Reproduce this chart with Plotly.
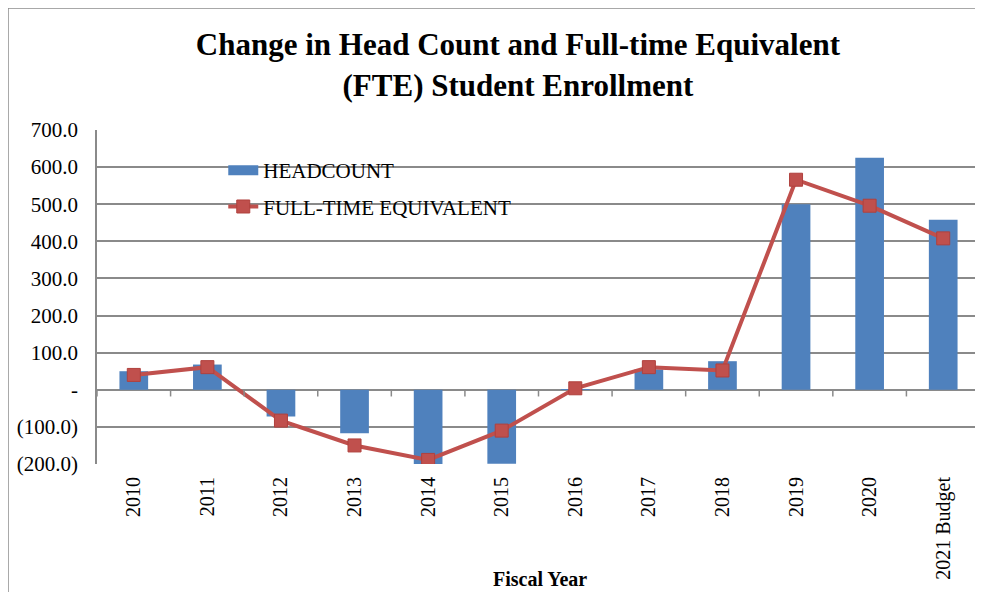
import plotly.graph_objects as go

categories = ["2010", "2011", "2012", "2013", "2014", "2015", "2016",
              "2017", "2018", "2019", "2020", "2021 Budget"]
headcount = [50, 68, -72, -117, -205, -199, 2, 55, 77, 500, 625, 458]
fte = [40, 61, -83, -150, -189, -110, 4, 61, 52, 566, 496, 408]

y_tickvals = [700, 600, 500, 400, 300, 200, 100, 0, -100, -200]
y_ticktext = ["700.0", "600.0", "500.0", "400.0", "300.0", "200.0",
              "100.0", "-", "(100.0)", "(200.0)"]

BLUE = "#4F81BD"
RED = "#C0504D"
GRID = "#8a8a8a"
FONT = "Liberation Serif"

n = len(categories)

fig = go.Figure()
fig.add_trace(go.Bar(x=categories, y=headcount, name="HEADCOUNT",
                     marker=dict(color=BLUE, line=dict(width=0)),
                     width=0.39, showlegend=False))
# legend proxy for the bar series (wide rectangle like the original)
fig.add_trace(go.Scatter(x=[None], y=[None], mode="lines", name="HEADCOUNT",
                         line=dict(color=BLUE, width=12), legendgroup="a"))
fig.add_trace(go.Scatter(x=categories, y=fte, name="FULL-TIME EQUIVALENT",
                         mode="lines+markers", legendgroup="b",
                         line=dict(color=RED, width=4),
                         marker=dict(symbol="square", size=13, color=RED,
                                     line=dict(color="#b0403d", width=1))))

shapes = []
# category boundary ticks on the zero line
for i in range(n + 1):
    shapes.append(dict(type="line", xref="x", yref="y", x0=i - 0.5, x1=i - 0.5,
                       y0=0, y1=-18, line=dict(color=GRID, width=1.5)))
# outer chart border
shapes.append(dict(type="rect", xref="paper", yref="paper",
                   x0=-0.1008, x1=1.05, y0=-0.5, y1=1.365,
                   line=dict(color="#8c8c8c", width=1.5), layer="below"))

fig.update_layout(
    width=975, height=584,
    margin=dict(l=89, r=3, t=122, b=128),
    paper_bgcolor="white", plot_bgcolor="white",
    font=dict(family=FONT, size=20, color="black"),
    title=dict(text="<b>Change in Head Count and Full-time Equivalent<br>(FTE) Student Enrollment</b>",
               x=0.523, xanchor="center", y=0.919, yanchor="middle",
               font=dict(family=FONT, size=31, color="black")),
    barmode="overlay",
    showlegend=True,
    legend=dict(x=0.143, y=0.94, xanchor="left", yanchor="top",
                bgcolor="rgba(0,0,0,0)", tracegroupgap=6,
                font=dict(family=FONT, size=21, color="black")),
    xaxis=dict(type="category", categoryorder="array", categoryarray=categories,
               range=[-0.5, n - 0.5], autorange=False,
               tickangle=-90, showgrid=False, ticks="", showline=False,
               zeroline=False, ticklabelstandoff=8,
               tickfont=dict(family=FONT, size=20, color="black")),
    yaxis=dict(range=[-200, 700], autorange=False,
               tickvals=y_tickvals, ticktext=y_ticktext,
               showgrid=True, gridcolor=GRID, gridwidth=1.5,
               zeroline=True, zerolinecolor=GRID, zerolinewidth=1.5,
               showline=True, linecolor=GRID, linewidth=1.5,
               ticks="", ticklabelstandoff=13,
               tickfont=dict(family=FONT, size=21, color="black")),
    shapes=shapes,
    annotations=[dict(text="<b>Fiscal Year</b>", xref="paper", yref="paper",
                      x=0.502, y=-0.345, xanchor="center", yanchor="middle",
                      showarrow=False,
                      font=dict(family=FONT, size=20, color="black"))],
)

fig.write_html("out.html")
